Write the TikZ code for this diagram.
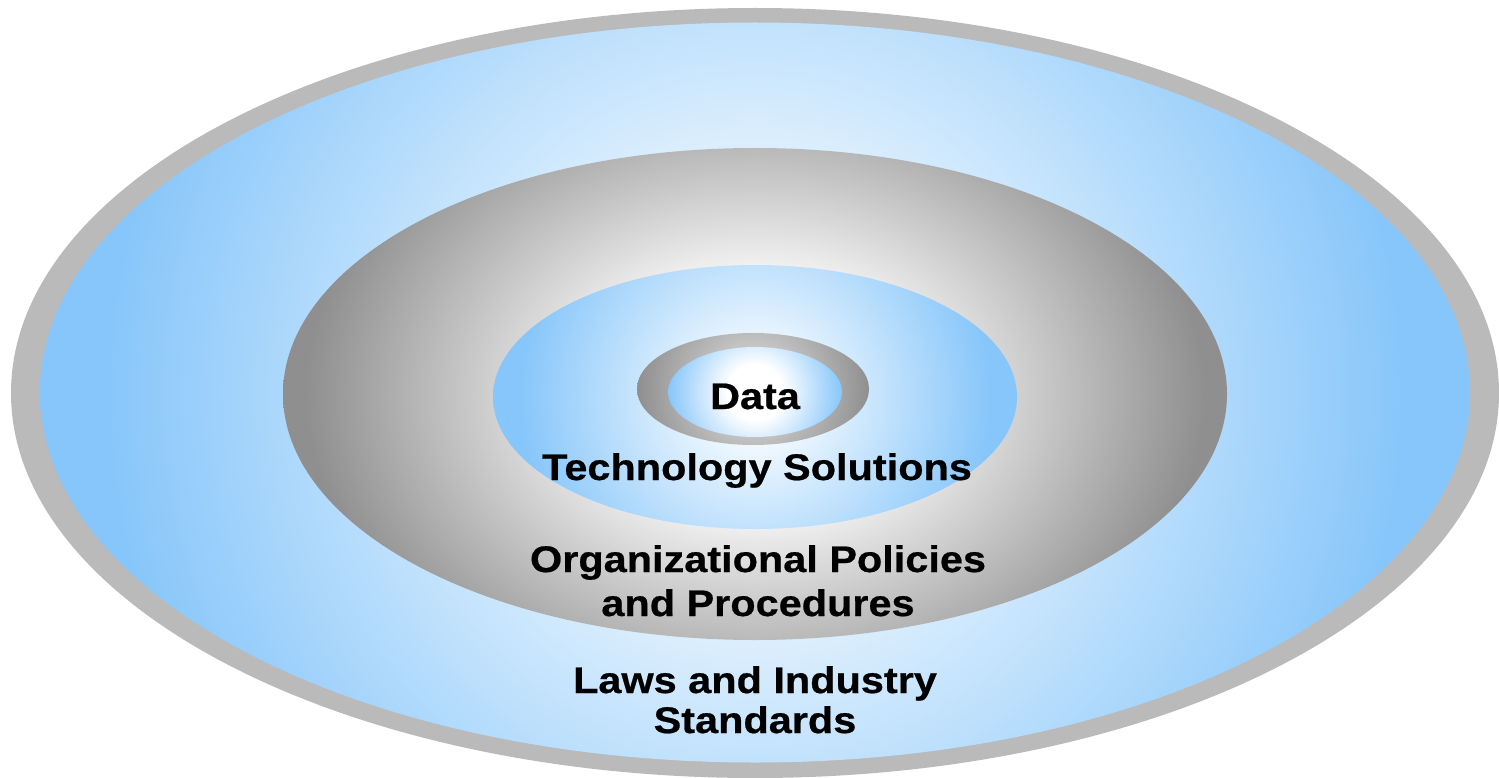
\documentclass[tikz,border=0pt]{standalone}
\usepackage{fontspec}
\newfontfamily\lblfont[FakeStretch=1.12, BoldFeatures={FakeBold=0.6}]{Liberation Sans}
\definecolor{myblue}{RGB}{135,198,250}
\definecolor{rimgray}{RGB}{186,186,186}
\definecolor{darkgray}{RGB}{143,143,143}
\definecolor{dgray}{RGB}{230,230,230}
% outer blue ring: white until ~80, blue from ~650 (R=715 <-> 25bp)
\pgfdeclareradialshading{blueouter}{\pgfpoint{0bp}{0bp}}{color(0bp)=(white); color(2.8bp)=(white); color(22.7bp)=(myblue); color(50bp)=(myblue)}
% gray ring (organizational), R=480 <-> 25bp
\pgfdeclareradialshading{grayorg}{\pgfpoint{0bp}{0bp}}{color(0bp)=(white); color(6.8bp)=(white); color(23.4bp)=(darkgray); color(50bp)=(darkgray)}
% inner blue (technology), R=262
\pgfdeclareradialshading{bluetech}{\pgfpoint{0bp}{0bp}}{color(0bp)=(white); color(2bp)=(white); color(22.5bp)=(myblue); color(50bp)=(myblue)}
% data gray ring, R=116
\pgfdeclareradialshading{graydata}{\pgfpoint{0bp}{0bp}}{color(0bp)=(dgray); color(25bp)=(darkgray); color(50bp)=(darkgray)}
% data blue, R=87
\pgfdeclareradialshading{bluedata}{\pgfpoint{0bp}{0bp}}{color(0bp)=(white); color(8bp)=(white); color(25bp)=(myblue); color(50bp)=(myblue)}
\tikzset{
  lbl/.style={font=\lblfont\bfseries\fontsize{37}{42}\selectfont, text=black, align=center, inner sep=0pt, anchor=base},
}
\begin{document}
\begin{tikzpicture}[x=1pt,y=-1pt]
\useasboundingbox (0,0) rectangle (1499,778);
% outer rim
\fill[rimgray] (755,393) ellipse (744 and 385);
% outer blue ring
\begin{scope}
\clip (755,392.5) ellipse (715 and 370);
\shade[shading=blueouter] (40,-322) rectangle (1470,1108);
\end{scope}
% gray ring
\begin{scope}
\clip (755,394) ellipse (472 and 246);
\shade[shading=grayorg] (275,34) rectangle (1235,754);
\end{scope}
% tech blue
\begin{scope}
\clip (755,397) ellipse (262 and 132);
\shade[shading=bluetech] (493,135) rectangle (1017,659);
\end{scope}
% data gray
\begin{scope}
\clip (753,389) ellipse (116 and 56);
\shade[shading=graydata] (637,273) rectangle (869,505);
\end{scope}
% data blue
\begin{scope}
\clip (755,392) ellipse (87 and 45);
\shade[shading=bluedata] (668,305) rectangle (842,479);
\end{scope}
\node[lbl] (data) at (755,409) {Data};
\node[lbl] (tech) at (757,480) {Technology Solutions};
\node[lbl, font=\lblfont\bfseries\fontsize{37}{44}\selectfont] (org) at (758,616) {Organizational Policies\\and Procedures};
\node[lbl, font=\lblfont\bfseries\fontsize{37}{40}\selectfont] (laws) at (755,733) {Laws and Industry\\Standards};
\end{tikzpicture}
\end{document}
